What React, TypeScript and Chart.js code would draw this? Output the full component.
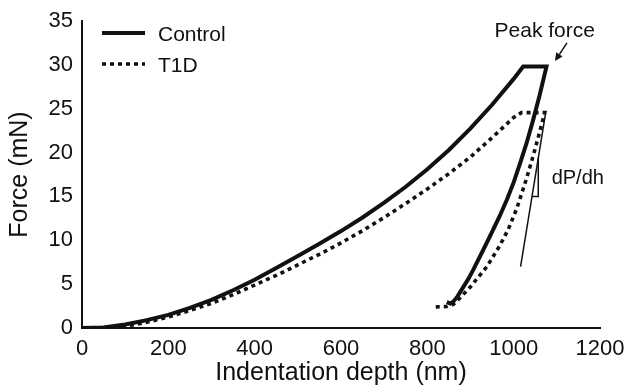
import React, { useEffect, useRef } from "react";
import { Chart, registerables } from "chart.js";

Chart.register(...registerables);

// Indentation depth (nm) / force (mN)
const controlDepth = [0, 50, 100, 150, 200, 250, 300, 350, 400, 450, 500, 550, 600, 650, 700, 750, 800, 850, 900, 950, 1000, 1022, 1076, 1060, 1045, 1030, 1015, 1000, 984, 968, 950, 930, 906, 895, 885, 870, 860, 853, 845];
const controlForce = [0, 0.05, 0.4, 0.9, 1.5, 2.3, 3.2, 4.3, 5.5, 6.85, 8.2, 9.6, 11.05, 12.6, 14.3, 16.1, 18.1, 20.3, 22.75, 25.45, 28.4, 29.8, 29.8, 26.5, 23.7, 21.1, 18.8, 16.6, 14.6, 12.8, 10.95, 8.95, 6.6, 5.6, 4.8, 3.6, 3.0, 2.8, 2.95];

const t1dDepth = [0, 50, 100, 150, 200, 250, 300, 350, 400, 450, 500, 550, 600, 650, 700, 750, 800, 850, 900, 950, 1000, 1018, 1072, 1060, 1045, 1028, 1007, 988, 968, 938, 900, 875, 860, 845, 817];
const t1dForce = [0, 0.05, 0.2, 0.65, 1.25, 2.0, 2.8, 3.8, 4.9, 6.0, 7.2, 8.4, 9.7, 11.1, 12.6, 14.2, 15.85, 17.6, 19.5, 21.7, 24.0, 24.55, 24.55, 22.3, 19.6, 16.75, 13.6, 11.3, 9.4, 7.0, 4.7, 3.4, 2.7, 2.45, 2.4];

const slopeDepth = [1016, 1074];
const slopeForce = [7.0, 24.5];

const triangleDepth = [1042.5, 1057, 1057];
const triangleForce = [15, 15, 19.4];

const xTicks = [0, 200, 400, 600, 800, 1000, 1200];
const yTicks = [0, 5, 10, 15, 20, 25, 30, 35];

const seriesLabels = ["Control", "T1D"];

const FONT = "'Liberation Sans', Arial, Helvetica, sans-serif";
const INK = "#111";

const toPoints = (xs: number[], ys: number[]) => xs.map((x, i) => ({ x, y: ys[i] }));

const overlayPlugin = {
  id: "overlay",
  afterDatasetsDraw(chart: any) {
    const { ctx } = chart;
    const xs = chart.scales.x;
    const ys = chart.scales.y;
    ctx.save();
    // Legend
    ctx.strokeStyle = INK;
    ctx.fillStyle = INK;
    ctx.lineCap = "butt";
    ctx.lineWidth = 4;
    ctx.setLineDash([]);
    ctx.beginPath();
    ctx.moveTo(102, 33);
    ctx.lineTo(145, 33);
    ctx.stroke();
    ctx.lineWidth = 3.5;
    ctx.setLineDash([4, 4]);
    ctx.beginPath();
    ctx.moveTo(102, 64);
    ctx.lineTo(145, 64);
    ctx.stroke();
    ctx.setLineDash([]);
    ctx.font = `21px ${FONT}`;
    ctx.textAlign = "left";
    ctx.textBaseline = "alphabetic";
    ctx.fillText(seriesLabels[0], 158, 41);
    ctx.fillText(seriesLabels[1], 158, 72);

    // Peak force annotation
    ctx.font = `21px ${FONT}`;
    ctx.textAlign = "center";
    ctx.fillText("Peak force", xs.getPixelForValue(1072), ys.getPixelForValue(33.2));
    const tx = xs.getPixelForValue(1123.5), ty = ys.getPixelForValue(32.5);
    const hx = xs.getPixelForValue(1095.7), hy = ys.getPixelForValue(30.44);
    const ang = Math.atan2(hy - ty, hx - tx);
    const L = 8, W = 3.8;
    const bx = hx - Math.cos(ang) * L, by = hy - Math.sin(ang) * L;
    ctx.lineWidth = 1.5;
    ctx.beginPath();
    ctx.moveTo(tx, ty);
    ctx.lineTo(bx, by);
    ctx.stroke();
    ctx.beginPath();
    ctx.moveTo(hx, hy);
    ctx.lineTo(bx + Math.sin(ang) * W, by - Math.cos(ang) * W);
    ctx.lineTo(bx - Math.sin(ang) * W, by + Math.cos(ang) * W);
    ctx.closePath();
    ctx.fill();

    // dP/dh label
    ctx.font = `20px ${FONT}`;
    ctx.textAlign = "left";
    ctx.fillText("dP/dh", xs.getPixelForValue(1088), ys.getPixelForValue(16.4));
    ctx.restore();
  },
};

export default function App() {
  const ref = useRef<HTMLCanvasElement | null>(null);
  useEffect(() => {
    if (!ref.current) return;
    const chart = new Chart(ref.current, {
      type: "scatter",
      data: {
        datasets: [
          {
            label: seriesLabels[1],
            data: toPoints(t1dDepth, t1dForce),
            showLine: true,
            borderColor: INK,
            borderWidth: 3.6,
            borderDash: [4, 4],
            borderCapStyle: "butt",
            borderJoinStyle: "miter",
            pointRadius: 0,
            tension: 0,
            fill: false,
          },
          {
            label: seriesLabels[0],
            data: toPoints(controlDepth, controlForce),
            showLine: true,
            borderColor: INK,
            borderWidth: 4,
            borderCapStyle: "butt",
            borderJoinStyle: "miter",
            pointRadius: 0,
            tension: 0,
            fill: false,
          },
          {
            label: "slope",
            data: toPoints(slopeDepth, slopeForce),
            showLine: true,
            borderColor: INK,
            borderWidth: 1.5,
            pointRadius: 0,
            tension: 0,
          },
          {
            label: "triangle",
            data: toPoints(triangleDepth, triangleForce),
            showLine: true,
            borderColor: INK,
            borderWidth: 1.5,
            borderJoinStyle: "miter",
            pointRadius: 0,
            tension: 0,
          },
        ],
      } as any,
      options: {
        animation: false,
        responsive: false,
        layout: { padding: { top: 21, right: 24, left: 0, bottom: 0 } },
        plugins: { legend: { display: false }, tooltip: { enabled: false } },
        scales: {
          x: {
            type: "linear",
            min: 0,
            max: 1200,
            afterBuildTicks: (s: any) => {
              s.ticks = xTicks.map((v) => ({ value: v }));
            },
            afterFit: (s: any) => {
              s.height = 62;
              s.paddingLeft = 0;
              s.paddingRight = 24;
            },
            grid: { display: false, drawTicks: false },
            border: { display: true, color: INK, width: 2 },
            ticks: {
              color: INK,
              font: { family: FONT, size: 22 },
              padding: 8,
              maxRotation: 0,
              callback: (v: any) => String(v),
            },
            title: {
              display: true,
              text: "Indentation depth (nm)",
              color: INK,
              font: { family: FONT, size: 25 },
              padding: { top: 0, bottom: 2 },
            },
          },
          y: {
            type: "linear",
            min: 0,
            max: 35,
            afterBuildTicks: (s: any) => {
              s.ticks = yTicks.map((v) => ({ value: v }));
            },
            afterFit: (s: any) => {
              s.width = 82;
              s.paddingTop = 0;
              s.paddingBottom = 0;
            },
            grid: { display: false, drawTicks: false },
            border: { display: true, color: INK, width: 2 },
            ticks: {
              color: INK,
              font: { family: FONT, size: 22 },
              padding: 9,
              callback: (v: any) => String(v),
            },
            title: {
              display: true,
              text: "Force (mN)",
              color: INK,
              font: { family: FONT, size: 25 },
              padding: { top: 5, bottom: 0 },
            },
          },
        },
      } as any,
      plugins: [overlayPlugin],
    });
    return () => chart.destroy();
  }, []);
  return (
    <div style={{ position: "fixed", left: 0, top: 0, width: 624, height: 390, background: "#fff" }}>
      <canvas ref={ref} width={624} height={390} style={{ display: "block" }} />
    </div>
  );
}
